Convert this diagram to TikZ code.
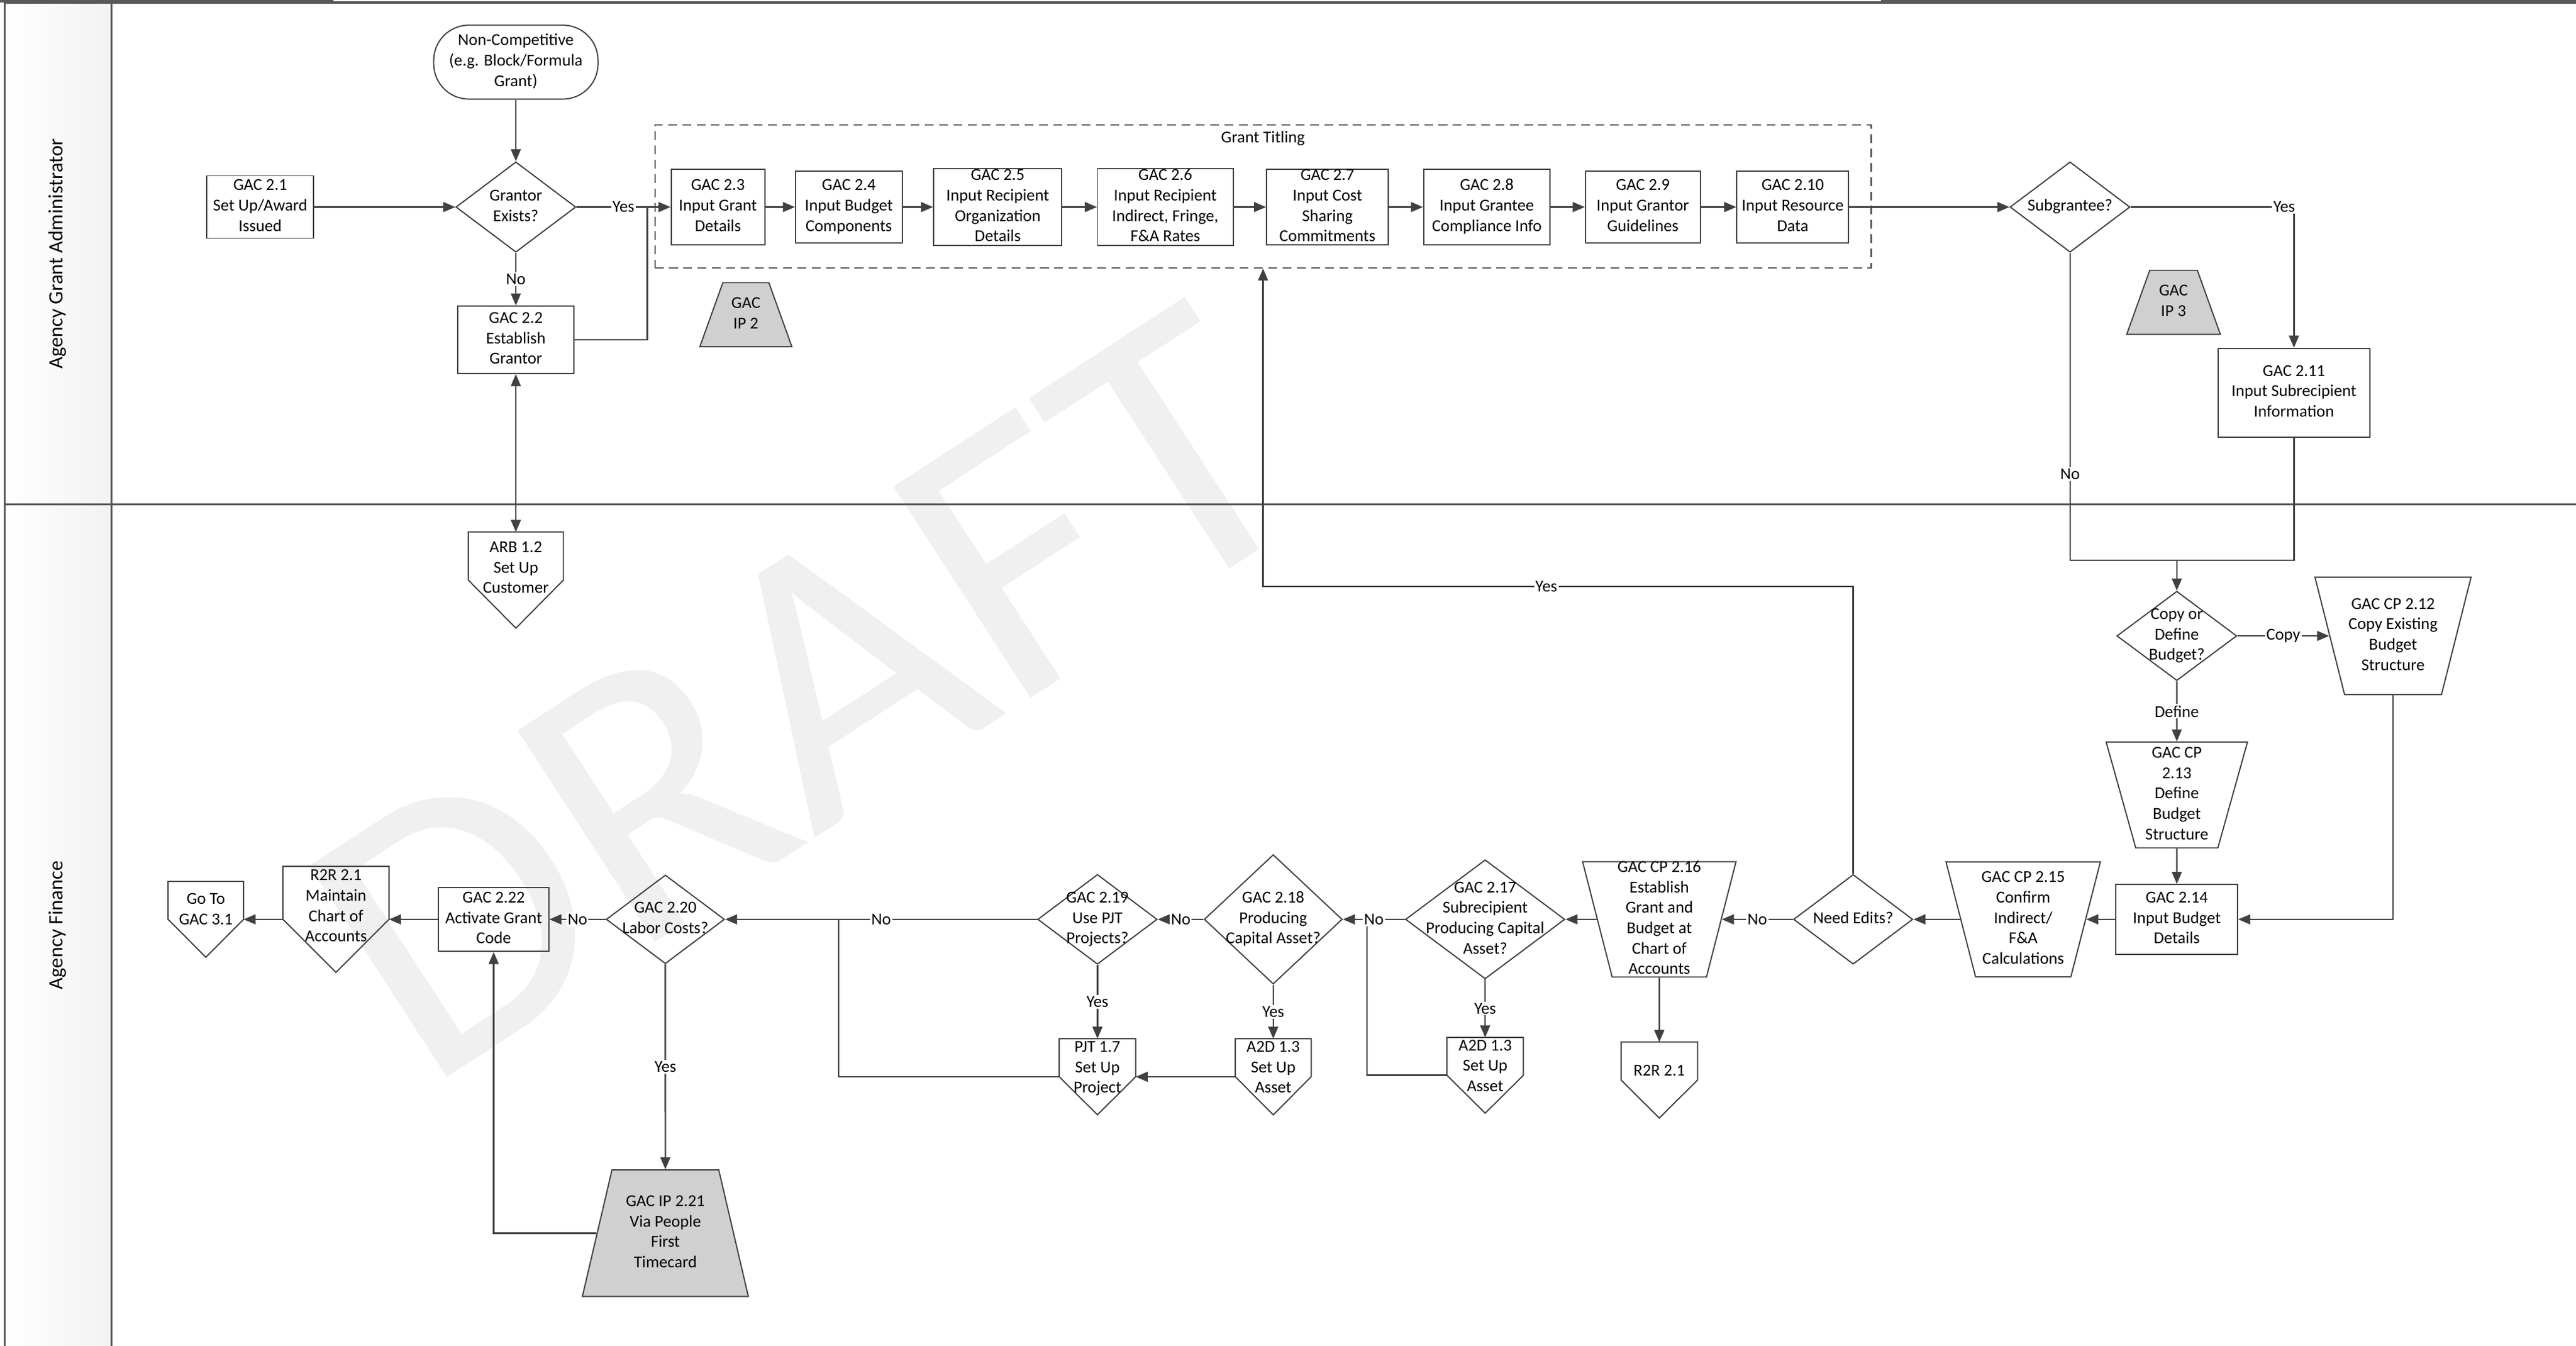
\documentclass[tikz,border=0pt]{standalone}
\usepackage{fontspec}
\setmainfont{Carlito}
\usetikzlibrary{shapes.geometric,arrows.meta}
\definecolor{linec}{HTML}{404040}
\definecolor{framec}{HTML}{595959}
\definecolor{ipfill}{HTML}{D0D0D0}
\newlength\pu
\setlength\pu{0.26307mm}
\newcommand\nfont{\fontsize{7.6pt}{9.3pt}\selectfont}
\newcommand\lanefont{\fontsize{9.3pt}{11pt}\selectfont}
\newcommand\ctext[2][0pt]{\smash{\makebox[0pt]{\raisebox{\dimexpr#1-1.9pt\relax}{\begin{tabular}[c]{@{}c@{}}#2\end{tabular}}}}}
\newcommand\tbody[3]{\makebox[#1\pu]{\rule[\dimexpr-#2\pu/2\relax]{0pt}{#2\pu}\ctext{#3}}}
\tikzset{
  shapeline/.style={draw=linec, line width=0.55pt},
  box/.style={shapeline, rectangle, inner sep=0pt},
  start/.style={shapeline, rectangle, rounded corners=16pt, inner sep=0pt},
  decision/.style={shapeline, diamond, inner sep=0pt},
  manual/.style={shapeline, trapezium, shape border rotate=180, inner sep=0pt},
  inbox/.style={shapeline, fill=ipfill, trapezium, inner sep=0pt},
  slope/.style={trapezium left angle=#1, trapezium right angle=#1},
  offpage/.style={rectangle, inner sep=0pt},
  titlebox/.style={draw=framec, line width=0.6pt, dash pattern=on 4pt off 2.5pt, inner sep=0pt},
  frame/.style={draw=framec, line width=0.9pt},
  lane/.style={font=\lanefont, inner sep=0pt},
  watermark/.style={font=\fontsize{179pt}{179pt}\selectfont, text=gray!12, rotate=33, xscale=1.02, inner sep=0pt},
  lbl/.style={fill=white, inner sep=0.6pt},
  link/.style={draw=linec, line width=0.7pt},
  flow/.style={link, -{Triangle[length=5.5pt,width=4.5pt]}},
  both/.style={link, {Triangle[length=5.5pt,width=4.5pt]}-{Triangle[length=5.5pt,width=4.5pt]}}
}
\begin{document}
\begin{tikzpicture}[x=0.26307mm, y=-0.26307mm, every node/.style={font=\nfont}]
  \useasboundingbox (0,0) rectangle (1568,819);
  \node[watermark] (draft) at (491,422) {DRAFT};
  \shade[left color=white, right color=gray!10] (3,1.5) rectangle (68,819);
  \draw[frame] (3,1.5) -- (1568,1.5);
  \draw[frame] (3,1.5) -- (3,819);
  \draw[frame] (68,1.5) -- (68,819);
  \draw[frame] (3,307) -- (1568,307);
  \draw[line width=1.4pt, framec] (0,0.7) -- (203,0.7);
  \draw[line width=1.4pt, framec] (1145,0.7) -- (1568,0.7);
  \node[lane, rotate=90] (laneA) at (35,154.5) {Agency Grant Administrator};
  \node[lane, rotate=90] (laneB) at (35,563) {Agency Finance};

  \node[start, minimum width=100\pu, minimum height=45\pu] (nc) at (314,37.8) {\ctext{Non-Competitive\\(e.g. Block/Formula\\Grant)}};
  \node[box, minimum width=65\pu, minimum height=38\pu] (g21) at (158.4,126) {\ctext{GAC 2.1\\Set Up/Award\\Issued}};
  \node[decision, minimum width=73\pu, minimum height=55\pu] (grantor) at (314,126) {\ctext{Grantor\\Exists?}};
  \node[box, minimum width=71\pu, minimum height=41\pu] (g22) at (314,206.8) {\ctext{GAC 2.2\\Establish\\Grantor}};
  \coordinate (jyes) at (394,126);
  \node[titlebox, minimum width=740.4\pu, minimum height=87\pu] (titling) at (768.8,119.5) {};
  \node (ttl) at (768.8,84.3) {Grant Titling};
  \node[box, minimum width=57\pu, minimum height=46\pu] (g23) at (437,126) {\ctext{GAC 2.3\\Input Grant\\Details}};
  \node[box, minimum width=65\pu, minimum height=44\pu] (g24) at (516.7,126) {\ctext{GAC 2.4\\Input Budget\\Components}};
  \node[box, minimum width=78\pu, minimum height=47\pu] (g25) at (607.3,126) {\ctext{GAC 2.5\\Input Recipient\\Organization\\Details}};
  \node[box, minimum width=82.5\pu, minimum height=47\pu] (g26) at (709.3,126) {\ctext{GAC 2.6\\Input Recipient\\Indirect, Fringe,\\F\&A Rates}};
  \node[box, minimum width=74\pu, minimum height=46\pu] (g27) at (808,126) {\ctext{GAC 2.7\\Input Cost\\Sharing\\Commitments}};
  \node[box, minimum width=77\pu, minimum height=46\pu] (g28) at (905,126) {\ctext{GAC 2.8\\Input Grantee\\Compliance Info}};
  \node[box, minimum width=70\pu, minimum height=44\pu] (g29) at (1000,126) {\ctext{GAC 2.9\\Input Grantor\\Guidelines}};
  \node[box, minimum width=68\pu, minimum height=44\pu] (g210) at (1091.2,126) {\ctext{GAC 2.10\\Input Resource\\Data}};
  \node[inbox, slope=70.25] (ip2) at (454,191.5) {\tbody{28}{39}{GAC\\IP 2}};
  \node[decision, minimum width=73\pu, minimum height=55\pu] (subgr) at (1260,126) {\ctext{Subgrantee?}};
  \node[inbox, slope=70.25] (ip3) at (1323,184) {\tbody{29}{39}{GAC\\IP 3}};
  \node[box, minimum width=92.6\pu, minimum height=54\pu] (g211) at (1396.3,239) {\ctext{GAC 2.11\\Input Subrecipient\\Information}};
  \coordinate (jsub) at (1325,341);

  \node[offpage, minimum width=57.4\pu, minimum height=58\pu] (arb12) at (314,353) {\ctext[5pt]{ARB 1.2\\Set Up\\Customer}};
  \node[decision, minimum width=73\pu, minimum height=54.4\pu] (copydef) at (1325,387) {\ctext{Copy or\\Define\\Budget?}};
  \node[manual, slope=75.85] (cp212) at (1456.6,387) {\tbody{59}{71.4}{GAC CP 2.12\\Copy Existing\\Budget\\Structure}};
  \node[manual, slope=74.38] (cp213) at (1325,483.8) {\tbody{50}{64.4}{GAC CP\\2.13\\Define\\Budget\\Structure}};
  \node[box, minimum width=74\pu, minimum height=42.4\pu] (g214) at (1325,559.5) {\ctext{GAC 2.14\\Input Budget\\Details}};
  \node[manual, slope=75.58] (cp215) at (1231.5,559.5) {\tbody{58}{70}{GAC CP 2.15\\Confirm\\Indirect/\\F\&A\\Calculations}};
  \node[decision, minimum width=72.6\pu, minimum height=54.6\pu] (edits) at (1128,559.5) {\ctext{Need Edits?}};
  \coordinate (jedit) at (1128,357);
  \node[manual, slope=75.62] (cp216) at (1010,559.5) {\tbody{57.4}{70.2}{GAC CP 2.16\\Establish\\Grant and\\Budget at\\Chart of\\Accounts}};
  \node[offpage, minimum width=46\pu, minimum height=45.7\pu] (r2rb) at (1010,657.3) {\ctext[3.7pt]{R2R 2.1}};
  \node[decision, minimum width=97\pu, minimum height=72.5\pu] (d217) at (904,559.5) {\ctext{GAC 2.17\\Subrecipient\\Producing Capital\\Asset?}};
  \node[offpage, minimum width=46\pu, minimum height=45.6\pu] (a2db) at (904,654.4) {\ctext[3.7pt]{A2D 1.3\\Set Up\\Asset}};
  \coordinate (j217) at (832,559.5);
  \node[decision, minimum width=84\pu, minimum height=78.8\pu] (d218) at (775,559.5) {\ctext{GAC 2.18\\Producing\\Capital Asset?}};
  \node[offpage, minimum width=45.6\pu, minimum height=45.8\pu] (a2da) at (775,655.3) {\ctext[3.7pt]{A2D 1.3\\Set Up\\Asset}};
  \node[decision, minimum width=72.7\pu, minimum height=54.7\pu] (d219) at (668,559.5) {\ctext{GAC 2.19\\Use PJT\\Projects?}};
  \node[offpage, minimum width=46\pu, minimum height=45.8\pu] (pjt17) at (668,655.3) {\ctext[3.7pt]{PJT 1.7\\Set Up\\Project}};
  \coordinate (j219) at (510.5,559.5);
  \node[decision, minimum width=72\pu, minimum height=54\pu] (d220) at (405,559.5) {\ctext{GAC 2.20\\Labor Costs?}};
  \node[inbox, slope=76.84] (ip221) at (405,750.5) {\tbody{65}{77}{GAC IP 2.21\\Via People\\First\\Timecard}};
  \node[box, minimum width=67\pu, minimum height=39\pu] (g222) at (300.5,559.5) {\ctext{GAC 2.22\\Activate Grant\\Code}};
  \node[offpage, minimum width=64\pu, minimum height=64\pu] (r2r21) at (204.5,559.5) {\ctext[5.5pt]{R2R 2.1\\Maintain\\Chart of\\Accounts}};
  \node[offpage, minimum width=45.4\pu, minimum height=45.6\pu] (goto) at (125.3,559.5) {\ctext[4pt]{Go To\\GAC 3.1}};

  \foreach \n in {arb12,r2rb,a2db,a2da,pjt17,r2r21,goto}
    \draw[shapeline] (\n.north west) -- (\n.north east) -- (\n.east) -- (\n.south) -- (\n.west) -- cycle;

  \begin{scope}[link]
    \draw (g22.east) -| (jyes);
    \draw (g211.south) |- (jsub);
    \draw (a2db.west) -| (j217);
    \draw (pjt17.west) -| (j219);
  \end{scope}
  \draw[both] (g22) -- (arb12);
  \begin{scope}[flow]
    \draw (nc) to (grantor);
    \draw (g21) to (grantor);
    \draw (grantor) to node[lbl]{Yes} (g23);
    \draw (grantor) to node[lbl]{No} (g22);
    \foreach \a/\b in {g23/g24,g24/g25,g25/g26,g26/g27,g27/g28,g28/g29,g29/g210,g210/subgr}
      \draw (\a) to (\b);
    \draw (subgr.east) -| node[lbl,pos=.47]{Yes} (g211.north);
    \draw (subgr.south) -- node[lbl,pos=.72]{No} (subgr.south |- jsub) -| (copydef.north);
    \draw (copydef) to node[lbl]{Copy} (cp212);
    \draw (copydef) to node[lbl]{Define} (cp213);
    \draw (cp213) to (g214);
    \draw (cp212.south) |- (g214.east);
    \draw (g214) to (cp215);
    \draw (cp215) to (edits);
    \draw (edits.north) -- (jedit) -| node[lbl,pos=.26]{Yes} (titling.south);
    \draw (edits) to node[lbl]{No} (cp216);
    \draw (cp216) to (r2rb);
    \draw (cp216) to (d217);
    \draw (d217) to node[lbl]{Yes} (a2db);
    \draw (d217) to node[lbl]{No} (d218);
    \draw (d218) to node[lbl]{Yes} (a2da);
    \draw (d218) to node[lbl]{No} (d219);
    \draw (a2da) to (pjt17);
    \draw (d219) to node[lbl]{Yes} (pjt17);
    \draw (d219) to node[lbl]{No} (d220);
    \draw (d220) to node[lbl]{No} (g222);
    \draw (d220) to node[lbl]{Yes} (ip221);
    \draw (ip221.west) -| (g222.south);
    \draw (g222) to (r2r21);
    \draw (r2r21) to (goto);
  \end{scope}
\end{tikzpicture}
\end{document}
